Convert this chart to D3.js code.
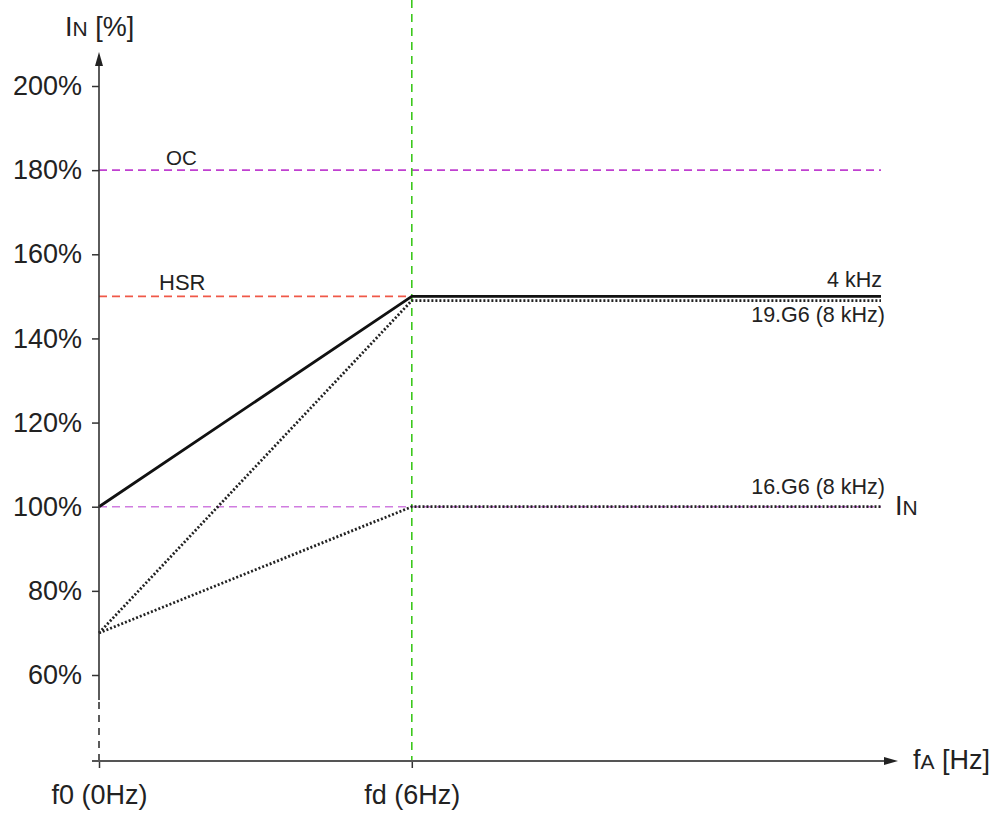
<!DOCTYPE html>
<html><head><meta charset="utf-8">
<script src="https://cdn.jsdelivr.net/npm/d3@7"></script>
<style>body{margin:0;background:#fff}svg{display:block;font-family:"Liberation Sans",Arial,sans-serif}</style>
</head><body><svg id="c" width="1004" height="816"></svg>
<script>
// ---- data ----
const yTicks = [60, 80, 100, 120, 140, 160, 180, 200];
const xTicks = [0, 6];
const xTickLabels = ["f0 (0Hz)", "fd (6Hz)"];
const freqs = [0, 6, 15];
const s4kHz = [100, 150, 150];
const s19G6 = [70, 149, 149];
const s16G6 = [70, 100, 100];
const seriesNames = ["4 kHz", "19.G6 (8 kHz)", "16.G6 (8 kHz)"];
const refLevels = [180, 150, 100];
const refNames = ["OC", "HSR", ""];
const refEnds = [15, 6, 15];

const svg = d3.select("#c");
const x = d3.scaleLinear().domain([0, 15]).range([99, 881]);
const y = d3.scaleLinear().domain([60, 200]).range([675, 86]);
const axisY = 761;

// reference dashed lines
const refColors = ["#c040d0", "#f05848", "#d07ce0"];
refLevels.forEach((v, i) => {
  svg.append("line").attr("x1", x(0)).attr("x2", x(refEnds[i]))
    .attr("y1", y(v)).attr("y2", y(v))
    .attr("stroke", refColors[i]).attr("stroke-width", 1.6).attr("stroke-dasharray", "8,5");
});
svg.append("text").attr("x", 166).attr("y", y(180) - 5).attr("font-size", 20.5).attr("fill", "#222").text(refNames[0]);
svg.append("text").attr("x", 159).attr("y", y(150) - 6).attr("font-size", 22).attr("fill", "#222").text(refNames[1]);

// green vertical at fd
svg.append("line").attr("x1", x(6)).attr("x2", x(6)).attr("y1", 0).attr("y2", axisY)
  .attr("stroke", "#3cc81c").attr("stroke-width", 1.6).attr("stroke-dasharray", "8,6");

// series
const line = d3.line().x((d, i) => x(freqs[i])).y(d => y(d));
svg.append("path").datum(s16G6).attr("d", line).attr("fill", "none")
  .attr("stroke", "#222").attr("stroke-width", 2.8).attr("stroke-dasharray", "2,2");
svg.append("path").datum(s19G6).attr("d", line).attr("fill", "none")
  .attr("stroke", "#222").attr("stroke-width", 2.8).attr("stroke-dasharray", "2,2");
svg.append("path").datum(s4kHz).attr("d", line).attr("fill", "none")
  .attr("stroke", "#111").attr("stroke-width", 2.8);

// series labels
const lab = [[seriesNames[0], 287], [seriesNames[1], 322], [seriesNames[2], 494]];
lab.forEach(([t, yy], i) => {
  svg.append("text").attr("x", i === 0 ? 882 : 885).attr("y", yy).attr("text-anchor", "end")
    .attr("font-size", 21.5).attr("fill", "#222").text(t);
});
// IN label at right
const inl = svg.append("text").attr("x", 895).attr("y", 515).attr("fill", "#222");
inl.append("tspan").attr("font-size", 27).text("I");
inl.append("tspan").attr("font-size", 21).text("N");

// Y axis
const yAxis = d3.axisLeft(y).tickValues(yTicks).tickSize(7).tickPadding(10).tickFormat(d => d + "%");
const gy = svg.append("g").attr("transform", `translate(${x(0)},0)`).call(yAxis);
gy.select(".domain").remove();
gy.selectAll(".tick line").attr("stroke", "#333").attr("stroke-width", 1.5);
gy.selectAll(".tick text").attr("font-size", 27).attr("fill", "#222")
  .attr("font-family", "'Liberation Sans',Arial,sans-serif");
svg.append("line").attr("x1", x(0)).attr("x2", x(0)).attr("y1", 62).attr("y2", 700)
  .attr("stroke", "#333").attr("stroke-width", 1.6);
svg.append("line").attr("x1", x(0)).attr("x2", x(0)).attr("y1", 702).attr("y2", axisY)
  .attr("stroke", "#333").attr("stroke-width", 1.6).attr("stroke-dasharray", "7,6");
svg.append("path").attr("d", `M${x(0)},52 L${x(0) - 4},66 L${x(0) + 4},66 Z`).attr("fill", "#222");

// X axis
const xAxis = d3.axisBottom(x).tickValues(xTicks).tickSize(7).tickPadding(17)
  .tickFormat((d, i) => xTickLabels[i]);
const gx = svg.append("g").attr("transform", `translate(0,${axisY})`).call(xAxis);
gx.select(".domain").remove();
gx.selectAll(".tick line").attr("stroke", "#333").attr("stroke-width", 1.5);
gx.selectAll(".tick text").attr("font-size", 27).attr("fill", "#222")
  .attr("font-family", "'Liberation Sans',Arial,sans-serif");
svg.append("line").attr("x1", 92).attr("x2", 888).attr("y1", axisY).attr("y2", axisY)
  .attr("stroke", "#555").attr("stroke-width", 2);
svg.append("path").attr("d", `M898,${axisY} L884,${axisY - 4} L884,${axisY + 4} Z`).attr("fill", "#222");

// axis titles
const yt = svg.append("text").attr("x", 65).attr("y", 36).attr("fill", "#222");
yt.append("tspan").attr("font-size", 27).text("I");
yt.append("tspan").attr("font-size", 21).text("N");
yt.append("tspan").attr("font-size", 27).text(" [%]");
const xt = svg.append("text").attr("x", 913).attr("y", 769).attr("fill", "#222");
xt.append("tspan").attr("font-size", 27).text("f");
xt.append("tspan").attr("font-size", 21).text("A");
xt.append("tspan").attr("font-size", 27).text(" [Hz]");
</script></body></html>
